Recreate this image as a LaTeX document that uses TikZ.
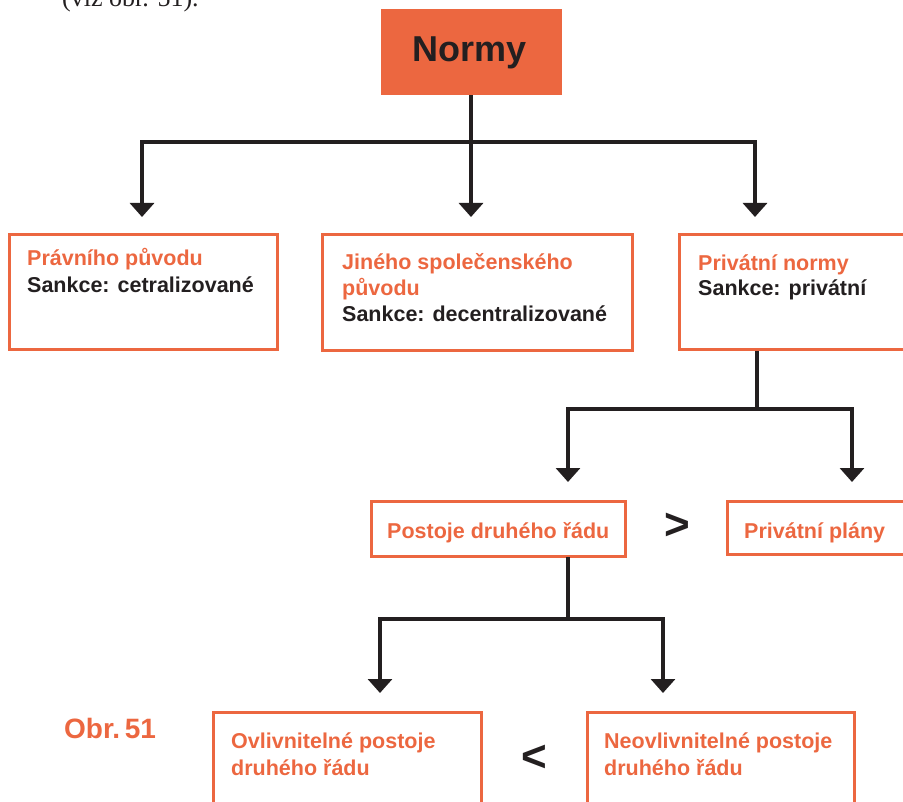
\documentclass[tikz,border=0pt]{standalone}
\usepackage{fontspec}
\setmainfont{Liberation Sans}
\newfontfamily\serifx{Liberation Serif}
\usetikzlibrary{arrows.meta}
\definecolor{orng}{RGB}{236,103,64}
\definecolor{ink}{RGB}{35,31,32}
\tikzset{
  box/.style={draw=orng, line width=3pt, rectangle, inner sep=0pt},
  ln/.style={draw=ink, line width=3.3pt, line join=miter},
  arr/.style={ln, -{Triangle[width=24pt,length=14pt]}, fill=none},
  otxt/.style={anchor=base west, inner sep=0pt, text=orng, font=\bfseries\fontsize{21.5}{26}\selectfont},
  btxt/.style={anchor=base west, inner sep=0pt, text=ink, font=\bfseries\fontsize{21.5}{26}\selectfont},
  cmp/.style={anchor=center, inner sep=0pt, text=ink, font=\bfseries\fontsize{44}{44}\selectfont},
}
\begin{document}
\begin{tikzpicture}[x=1pt,y=-1pt]
\useasboundingbox (0,0) rectangle (903,802);
\clip (0,0) rectangle (903,802);
% top serif fragment
\node[anchor=base west, inner sep=0pt, text=ink, font=\serifx\fontsize{26}{26}\selectfont] (viz) at (62,7) {(viz obr. 51).};
% Normy
\node[fill=orng, rectangle, inner sep=0pt, minimum width=181pt, minimum height=86pt] (normy) at (471.5,52) {};
\node[anchor=base, inner sep=0pt, text=ink, font=\bfseries\fontsize{36}{36}\selectfont] (normyt) at (470,62) {Normy};
% level 1 boxes
\node[box, minimum width=268pt, minimum height=115pt] (b1) at (143.5,292) {};
\node[box, minimum width=310pt, minimum height=116pt] (b2) at (477.5,292.5) {};
\node[box, minimum width=240.5pt, minimum height=115pt] (b3) at (799.75,292) {};
\node[otxt] (b1a) at (27,266) {Právního původu};
\node[btxt] (b1b) at (27,292.5) {Sankce: cetralizované};
\node[otxt] (b2a) at (342,270) {Jiného společenského};
\node[otxt] (b2b) at (342,296) {původu};
\node[btxt] (b2c) at (342,322) {Sankce: decentralizované};
\node[otxt] (b3a) at (698,271) {Privátní normy};
\node[btxt] (b3b) at (698,296) {Sankce: privátní};
% level 2 boxes
\node[box, minimum width=254pt, minimum height=55pt] (pb) at (498.5,529) {};
\node[box, minimum width=192.5pt, minimum height=53pt] (pp) at (823.75,528) {};
\node[otxt] (pbt) at (387,538) {Postoje druhého řádu};
\node[otxt] (ppt) at (744,538) {Privátní plány};
\node[cmp] (gt) at (677,526) {>};
% level 3 boxes
\node[box, minimum width=268pt, minimum height=107.5pt] (o1) at (347.5,766) {};
\node[box, minimum width=267pt, minimum height=107.5pt] (o2) at (721,766) {};
\node[otxt] (o1a) at (231,748) {Ovlivnitelné postoje};
\node[otxt] (o1b) at (231,775) {druhého řádu};
\node[otxt] (o2a) at (604,748) {Neovlivnitelné postoje};
\node[otxt] (o2b) at (604,775) {druhého řádu};
\node[cmp] (lt) at (534.5,758) {<};
\node[anchor=base west, inner sep=0pt, text=orng, font=\bfseries\fontsize{28}{28}\selectfont] (obr) at (64,738) {Obr.\,51};
% connectors level 1
\coordinate (j1) at (471,142);
\coordinate (t1) at (142,217);
\coordinate (t2) at (471,217);
\coordinate (t3) at (755,217);
\draw[ln] (normy.south -| j1) -- (j1);
\draw[arr] (j1) -| (t1);
\draw[arr] (j1) -- (t2);
\draw[arr] (j1) -| (t3);
% connectors level 2
\coordinate (s3) at (757,351);
\coordinate (j2) at (757,409);
\coordinate (t4) at (568,482);
\coordinate (t5) at (852,482);
\draw[ln] (s3) -- (j2);
\draw[arr] (j2) -| (t4);
\draw[arr] (j2) -| (t5);
% connectors level 3
\coordinate (s4) at (568,557);
\coordinate (j3) at (568,619);
\coordinate (t6) at (380,693);
\coordinate (t7) at (663,693);
\draw[ln] (s4) -- (j3);
\draw[arr] (j3) -| (t6);
\draw[arr] (j3) -| (t7);
\end{tikzpicture}
\end{document}
